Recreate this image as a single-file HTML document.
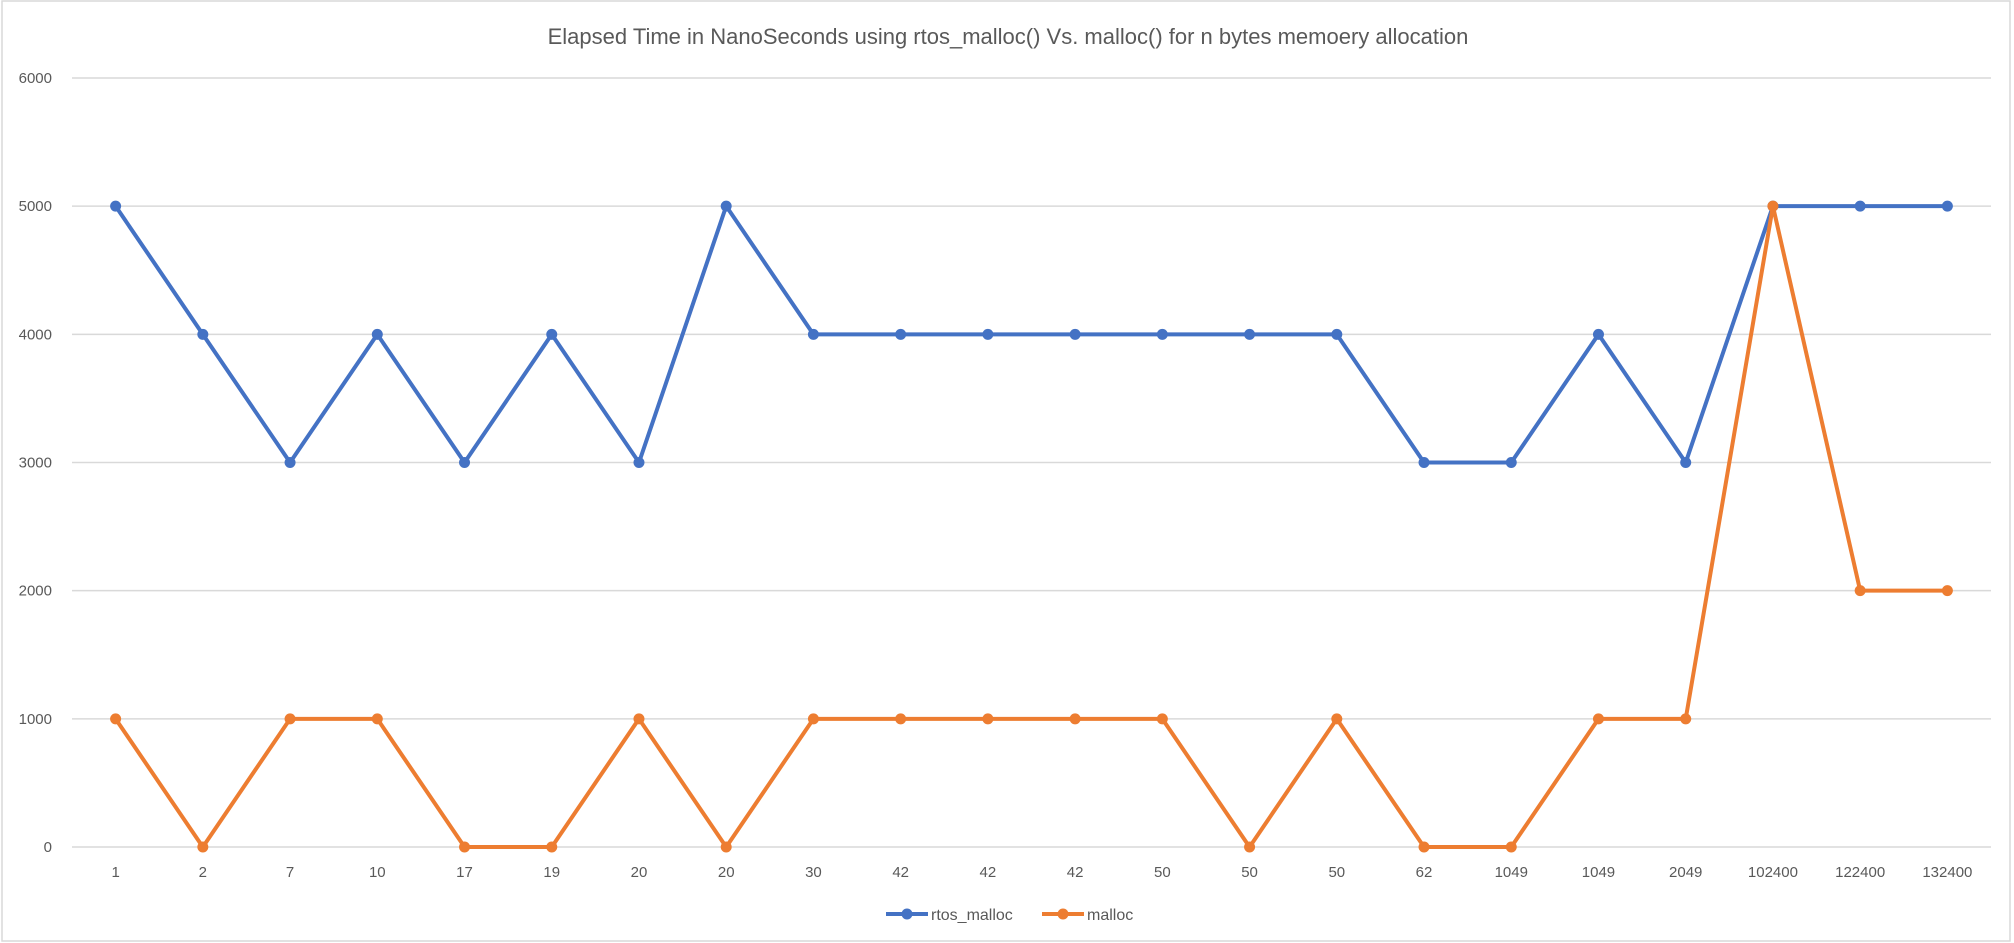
<!DOCTYPE html>
<html><head><meta charset="utf-8"><style>
body{margin:0;background:#fff;}
svg{display:block;font-family:"Liberation Sans",sans-serif;}
</style></head><body>
<svg id="chart" width="2014" height="943">
<rect x="2" y="1" width="2008" height="940" fill="#fff" stroke="#d9d9d9" stroke-width="1.5"/>
<text x="1008" y="44" text-anchor="middle" font-size="22" fill="#595959">Elapsed Time in NanoSeconds using rtos_malloc() Vs. malloc() for n bytes memoery allocation</text>
<g id="grid"></g><g id="xlabels"></g><g id="series"></g>
<g>
<g>
<line x1="886" y1="914" x2="928" y2="914" stroke="#4472c4" stroke-width="4"/>
<circle cx="907" cy="914" r="5.5" fill="#4472c4"/>
<text x="931" y="920" font-size="16" fill="#595959">rtos_malloc</text></g>
<g>
<line x1="1042" y1="914" x2="1084" y2="914" stroke="#ed7d31" stroke-width="4"/>
<circle cx="1063" cy="914" r="5.5" fill="#ed7d31"/>
<text x="1087" y="920" font-size="16" fill="#595959">malloc</text></g>
</g>
</svg>
<script>
const categories=["1","2","7","10","17","19","20","20","30","42","42","42","50","50","50","62","1049","1049","2049","102400","122400","132400"];
const rtosValues=[5000,4000,3000,4000,3000,4000,3000,5000,4000,4000,4000,4000,4000,4000,4000,3000,3000,4000,3000,5000,5000,5000];
const mallocValues=[1000,0,1000,1000,0,0,1000,0,1000,1000,1000,1000,1000,0,1000,0,0,1000,1000,5000,2000,2000];
const yTicks=[0,1000,2000,3000,4000,5000,6000];
const NS="http://www.w3.org/2000/svg";
const L=72,R=1991,Y0=847,Y6=78;
const n=categories.length,step=(R-L)/n;
const xs=i=>L+step*(i+0.5);
const ys=v=>Y0-(v/6000)*(Y0-Y6);
function mk(t,a,p){const e=document.createElementNS(NS,t);for(const k in a)e.setAttribute(k,a[k]);p.appendChild(e);return e;}
const grid=document.getElementById('grid');
yTicks.forEach(v=>{
 const l=mk('line',{x1:L,x2:R,y1:ys(v),y2:ys(v),stroke:'#d9d9d9','stroke-width':1.5},grid);
 
 
 const t=mk('text',{x:52,y:ys(v)+5,'text-anchor':'end','font-size':15,fill:'#595959'},grid);
 t.textContent=v;
 
 
});
const xl=document.getElementById('xlabels');
categories.forEach((c,i)=>{
 const t=mk('text',{x:xs(i),y:877,'text-anchor':'middle','font-size':15,fill:'#595959'},xl);
 t.textContent=c;
 
 
});
const sg=document.getElementById('series');
[[rtosValues,'#4472c4','rtos-malloc'],[mallocValues,'#ed7d31','malloc']].forEach(([vals,col,nm])=>{
 const g=mk('g',{},sg);
 
 
 const pl=mk('polyline',{points:vals.map((v,i)=>xs(i)+','+ys(v)).join(' '),fill:'none',stroke:col,'stroke-width':4,'stroke-linejoin':'round'},g);
 
 
 vals.forEach((v,i)=>{
  const c=mk('circle',{cx:xs(i),cy:ys(v),r:5.5,fill:col},g);
  
  
 });
});
</script>
</body></html>
